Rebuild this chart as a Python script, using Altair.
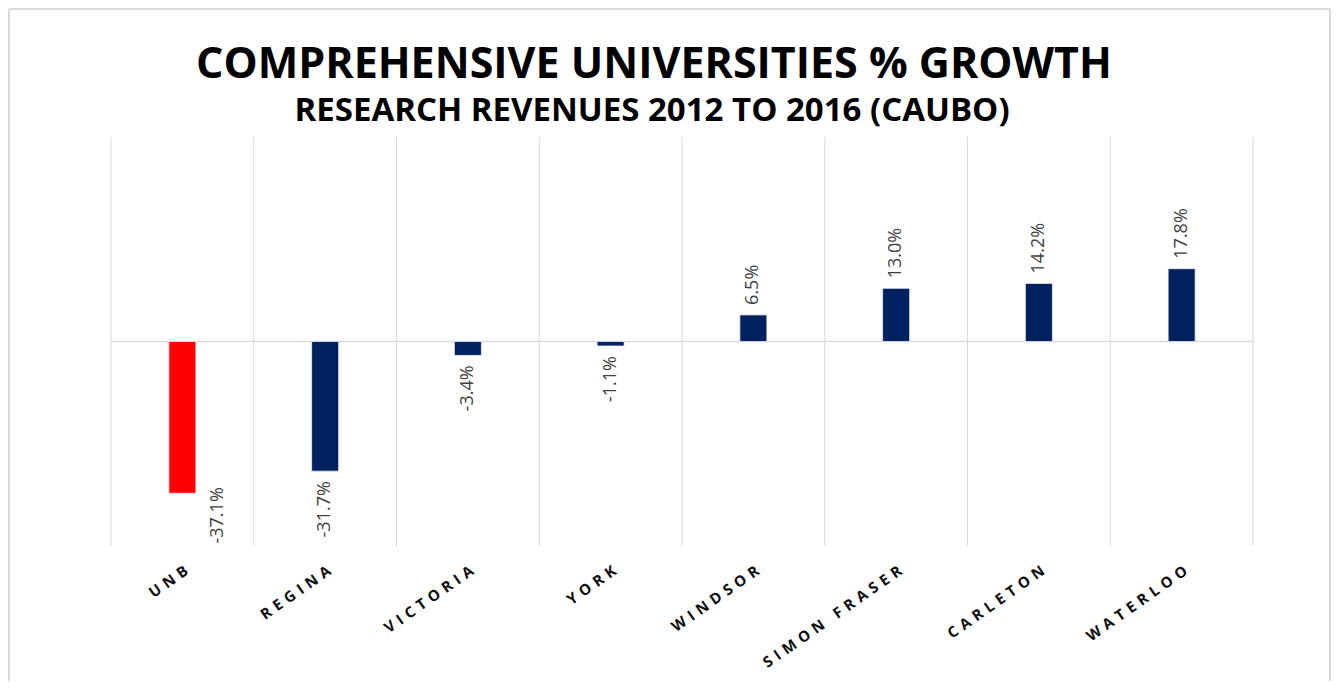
import altair as alt
import pandas as pd

universities = ["UNB", "REGINA", "VICTORIA", "YORK", "WINDSOR", "SIMON FRASER", "CARLETON", "WATERLOO"]
growth = [-37.1, -31.7, -3.4, -1.1, 6.5, 13.0, 14.2, 17.8]
highlight = ["UNB"]
title_text = ["COMPREHENSIVE  UNIVERSITIES  % GROWTH"]
subtitle_text = ["RESEARCH REVENUES 2012 TO 2016 (CAUBO)"]

df = pd.DataFrame({"uni": universities, "growth": growth})
df["hl"] = ["red" if u in highlight else "navy" for u in universities]
df["label"] = [f"{v:.1f}%" for v in growth]
zero_df = pd.DataFrame({"z": [0]})
title_df = pd.DataFrame({"t": title_text})
subtitle_df = pd.DataFrame({"t": subtitle_text})

W, H = 1142, 409
STEP = W / len(universities)
FONT = "Open Sans"
GRID = "#d9d9d9"
FRAME = "#d9d9d9"

xenc = alt.X("uni:N", sort=universities, title=None,
             scale=alt.Scale(paddingInner=0, paddingOuter=0),
             axis=alt.Axis(domain=False, ticks=False, grid=False, labelAngle=-35,
                           labelAlign="right", labelBaseline="top", labelPadding=17,
                           labelFont=FONT, labelFontSize=15, labelFontWeight="bold",
                           labelColor="#0d0d0d",
                           labelExpr="join(split(datum.label, ''), '\u2004')"))
yscale = alt.Scale(domain=[-50, 50], nice=False)
yenc = alt.Y("growth:Q", scale=yscale, axis=None, title=None)
xplain = alt.X("uni:N", sort=universities)

base = alt.Chart(df)

bars = base.mark_bar(size=27, stroke="#e8ecf4", strokeWidth=0.8).encode(
    x=xenc, y=yenc,
    color=alt.Color("hl:N", scale=alt.Scale(domain=["red", "navy"], range=["#ff0000", "#002060"]), legend=None))

grid = base.mark_rule(color=GRID, strokeWidth=1, xOffset=-STEP / 2).encode(x=xplain)
grid_end = base.transform_filter("datum.uni == 'WATERLOO'").mark_rule(
    color=GRID, strokeWidth=1, xOffset=STEP / 2).encode(x=xplain)
zero = alt.Chart(zero_df).mark_rule(color=GRID, strokeWidth=1.5).encode(
    y=alt.Y("z:Q", scale=yscale, axis=None))

LBL = dict(angle=270, baseline="middle", font=FONT, fontSize=18, color="#404040")
pos_lbl = base.transform_filter("datum.growth > 0").mark_text(align="left", dx=10, **LBL).encode(
    x=xplain, y=yenc, text="label:N")
neg_lbl = base.transform_filter("datum.growth < 0 && datum.uni != 'UNB'").mark_text(
    align="right", dx=-10, **LBL).encode(x=xplain, y=yenc, text="label:N")
unb_lbl = base.transform_filter("datum.uni == 'UNB'").mark_text(
    align="right", dx=6, dy=36, **LBL).encode(x=xplain, y=yenc, text="label:N")

# outer chart frame (left, top, right edges)
frame_left = base.mark_rule(color=FRAME, strokeWidth=2).encode(
    x=alt.value(-102), y=alt.value(-128), y2=alt.value(H + 135))
frame_top = base.mark_rule(color=FRAME, strokeWidth=2).encode(
    x=alt.value(-102), x2=alt.value(1219), y=alt.value(-128))
frame_right = base.mark_rule(color=FRAME, strokeWidth=2).encode(
    x=alt.value(1219), y=alt.value(-128), y2=alt.value(H + 135))

title = alt.Chart(title_df).mark_text(
    font=FONT, fontSize=43, fontWeight="bold", color="#000000", align="center", baseline="alphabetic").encode(
    text="t:N", x=alt.value(543), y=alt.value(-59))
subtitle = alt.Chart(subtitle_df).mark_text(
    font=FONT, fontSize=33, fontWeight="bold", color="#000000", align="center", baseline="alphabetic").encode(
    text="t:N", x=alt.value(541), y=alt.value(-16))

chart = alt.layer(frame_left, frame_top, frame_right, grid, grid_end, zero, bars,
                  pos_lbl, neg_lbl, unb_lbl, title, subtitle).properties(
    width=W, height=H, padding=0,
).configure_view(stroke=None)

chart.save("out.html", embed_options={"renderer": "svg", "actions": False})
